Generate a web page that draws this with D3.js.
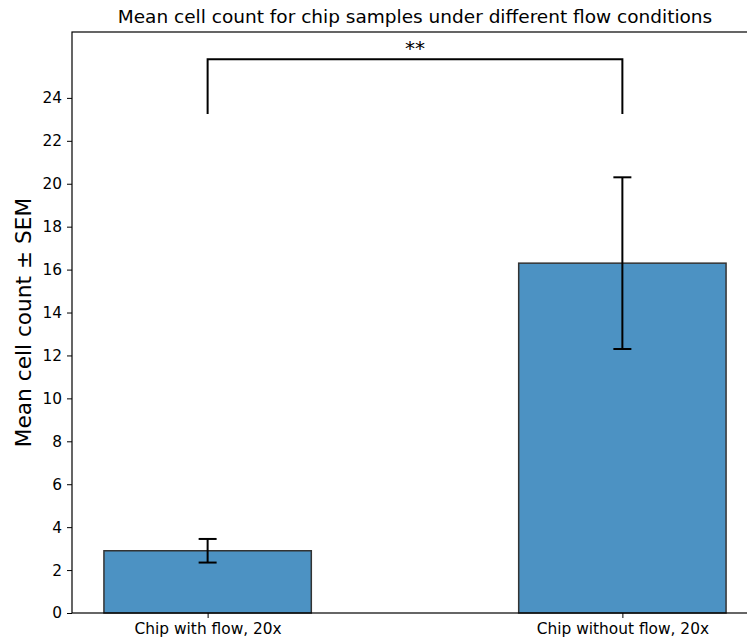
<!doctype html>
<html>
<head>
<meta charset="utf-8">
<script src="https://d3js.org/d3.v7.min.js"></script>
<style>
  body { margin: 0; background: #fff; }
  svg { display: block; font-family: 'DejaVu Sans', sans-serif; }
</style>
</head>
<body>
<svg id="chart" width="747" height="641"></svg>
<script>
const categories = ['Chip with flow, 20x', 'Chip without flow, 20x']
const means = [2.9, 16.3]
const sems = [0.55, 4.0]
const yTicks = [0, 2, 4, 6, 8, 10, 12, 14, 16, 18, 20, 22, 24]
const sigLabel = '**'
const sigBracket = [23.25, 25.8]

const svg = d3.select('#chart')
const margin = { top: 32, left: 72, bottom: 28 }
const plotRight = 758
const height = 641 - margin.top - margin.bottom

const x = d3.scaleLinear().domain([-0.327, 1.327]).range([margin.left, plotRight])
const y = d3.scaleLinear().domain([0, 27.07]).range([margin.top + height, margin.top])
const barW = x(0.5) - x(0)

// bars
svg.append('g').selectAll('rect')
  .data(means)
  .join('rect')
  .attr('x', (d, i) => x(i) - barW / 2)
  .attr('y', d => y(d))
  .attr('width', barW)
  .attr('height', d => y(0) - y(d))
  .attr('fill', '#4c92c3')
  .attr('stroke', '#333')
  .attr('stroke-width', 1.5)

// error bars
const eb = svg.append('g').attr('stroke', '#000').attr('stroke-width', 2)
means.forEach((m, i) => {
  const cx = x(i)
  eb.append('line').attr('x1', cx).attr('x2', cx).attr('y1', y(m - sems[i])).attr('y2', y(m + sems[i]))
  eb.append('line').attr('x1', cx - 9).attr('x2', cx + 9).attr('y1', y(m - sems[i])).attr('y2', y(m - sems[i]))
  eb.append('line').attr('x1', cx - 9).attr('x2', cx + 9).attr('y1', y(m + sems[i])).attr('y2', y(m + sems[i]))
})

// significance bracket
svg.append('path')
  .attr('d', `M${x(0)},${y(sigBracket[0])}V${y(sigBracket[1])}H${x(1)}V${y(sigBracket[0])}`)
  .attr('fill', 'none')
  .attr('stroke', '#000')
  .attr('stroke-width', 2)
svg.append('text')
  .attr('x', (x(0) + x(1)) / 2)
  .attr('y', y(sigBracket[1]) - 4)
  .attr('text-anchor', 'middle')
  .attr('font-size', 20)
  .text(sigLabel)

// axes
const yAxis = svg.append('g')
  .attr('transform', `translate(${margin.left},0)`)
  .call(d3.axisLeft(y).tickValues(yTicks).tickSize(5).tickPadding(5).tickFormat(d3.format('d')))
yAxis.selectAll('text').attr('font-size', 15.4).attr('fill', '#000').attr('font-family', 'DejaVu Sans')
yAxis.select('.domain').remove()

const xAxis = svg.append('g')
  .attr('transform', `translate(0,${y(0)})`)
  .call(d3.axisBottom(x).tickValues([0, 1]).tickSize(5).tickPadding(5).tickFormat(i => categories[i]))
xAxis.selectAll('text').attr('font-size', 15.4).attr('fill', '#000').attr('font-family', 'DejaVu Sans')
xAxis.select('.domain').remove()

// frame
svg.append('rect')
  .attr('x', margin.left)
  .attr('y', margin.top)
  .attr('width', plotRight - margin.left)
  .attr('height', height)
  .attr('fill', 'none')
  .attr('stroke', '#000')
  .attr('stroke-width', 1.2)

// labels
svg.append('text')
  .attr('x', (margin.left + plotRight) / 2)
  .attr('y', 23)
  .attr('text-anchor', 'middle')
  .attr('font-size', 18.5)
  .text('Mean cell count for chip samples under different flow conditions')

svg.append('text')
  .attr('transform', `translate(31,${margin.top + height / 2}) rotate(-90)`)
  .attr('text-anchor', 'middle')
  .attr('font-size', 21.7)
  .text('Mean cell count ± SEM')
</script>
</body>
</html>
